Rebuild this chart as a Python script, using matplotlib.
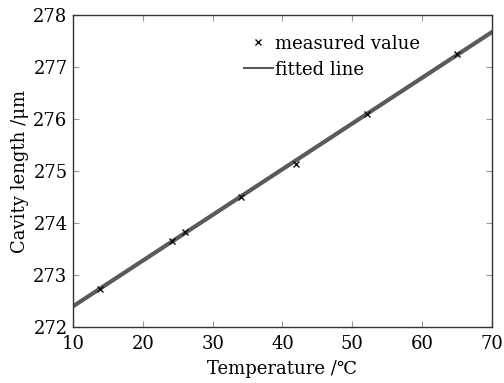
import matplotlib
matplotlib.use("Agg")
import matplotlib.pyplot as plt
import numpy as np

# measured points
temperature = [13.8, 24.1, 26.1, 34.0, 42.0, 52.1, 65.0]
cavity_length = [272.73, 273.66, 273.83, 274.50, 275.13, 276.10, 277.24]

# fitted line end points
fit_x = [10, 70]
fit_y = [272.40, 277.67]

plt.rcParams['font.family'] = ['DejaVu Serif', 'DejaVu Sans']
plt.rcParams['mathtext.fontset'] = 'dejavuserif'

fig = plt.figure(figsize=(5.04, 3.83), dpi=100)
ax = fig.add_axes([0.145, 0.146, 0.831, 0.815])

ax.plot(fit_x, fit_y, color='#5a5a5a', lw=3.0, label='fitted line', zorder=2)
ax.plot(temperature, cavity_length, linestyle='none', marker='x', color='#111111',
        markersize=5, mew=1.0, label='measured value', zorder=3)

ax.set_xlim(10, 70)
ax.set_ylim(272, 278)
ax.set_xticks(np.arange(10, 71, 10))
ax.set_yticks(np.arange(272, 279, 1))
ax.tick_params(direction='in', length=4, width=0.8, color='#999999',
               labelsize=13, top=True, right=True)
ax.tick_params(axis='x', pad=6)
ax.tick_params(axis='y', pad=4)
for s in ax.spines.values():
    s.set_color('#333333')
    s.set_linewidth(1.0)

ax.set_xlabel('Temperature /℃', fontsize=13, labelpad=5)
ax.set_ylabel('Cavity length /μm', fontsize=13, labelpad=3)

handles, labels = ax.get_legend_handles_labels()
leg = ax.legend(handles[::-1], labels[::-1], loc='upper left', bbox_to_anchor=(0.39, 0.96),
                frameon=False, fontsize=13, handlelength=1.6, handletextpad=0.15,
                labelspacing=0.45, borderaxespad=0)
leg.legend_handles[1].set_linewidth(1.5)

fig.savefig('out.png', dpi=100, facecolor='white')
